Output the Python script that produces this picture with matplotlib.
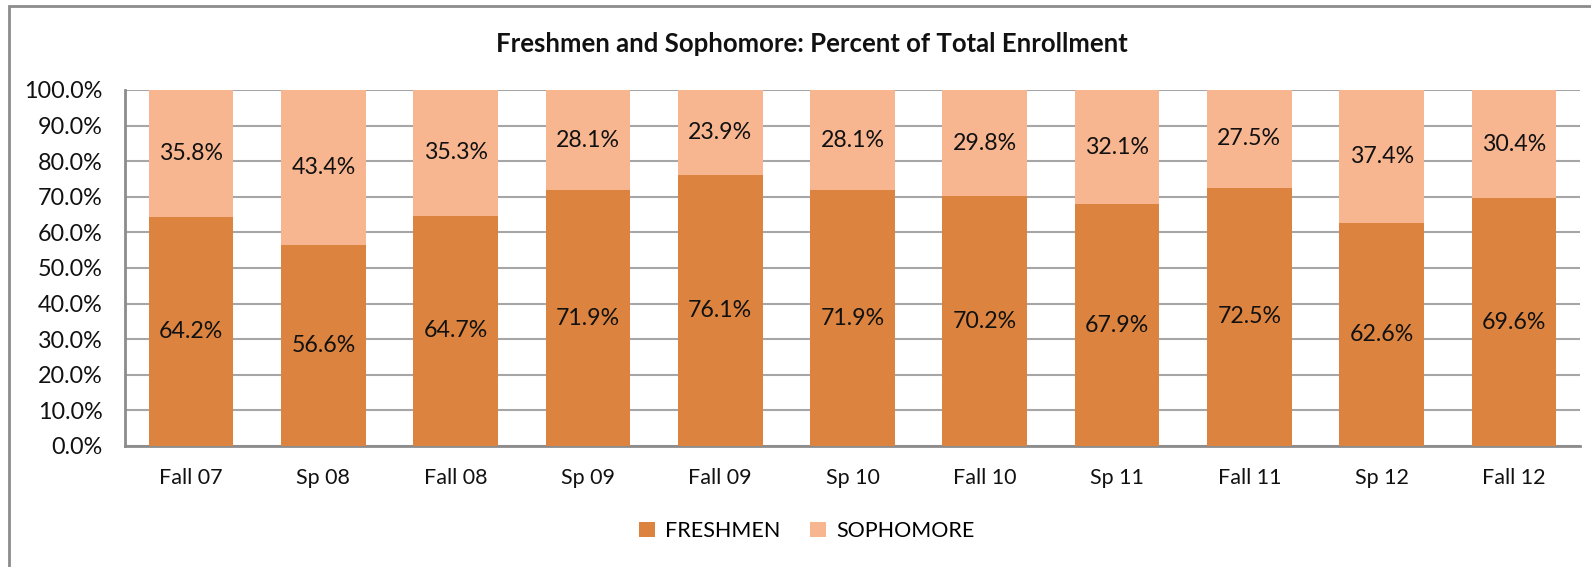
import numpy as np
import matplotlib.pyplot as plt
from matplotlib.patches import Rectangle

terms = ["Fall 07", "Sp 08", "Fall 08", "Sp 09", "Fall 09", "Sp 10",
         "Fall 10", "Sp 11", "Fall 11", "Sp 12", "Fall 12"]
freshmen = [64.2, 56.6, 64.7, 71.9, 76.1, 71.9, 70.2, 67.9, 72.5, 62.6, 69.6]
sophomore = [35.8, 43.4, 35.3, 28.1, 23.9, 28.1, 29.8, 32.1, 27.5, 37.4, 30.4]

c_fr = "#DC843F"
c_so = "#F8B690"
grid_c = "#A6A6A6"

plt.rcParams['font.family'] = ['Lato', 'DejaVu Sans']

fig = plt.figure(figsize=(15.91, 5.67), dpi=100)
# outer chart border (right/bottom run off the image)
fig.patches.append(Rectangle((9 / 1591, -0.1), 1.2, 1 - 6 / 567 + 0.1,
                             transform=fig.transFigure, fill=False,
                             edgecolor="#8C8C8C", linewidth=2))

ax = fig.add_axes([125 / 1591, 1 - 446 / 567, (1580 - 125) / 1591, (446 - 90) / 567])
x = np.arange(len(terms))
w = 0.64
b1 = ax.bar(x, freshmen, w, color=c_fr, label="FRESHMEN", zorder=3)
b2 = ax.bar(x, sophomore, w, bottom=freshmen, color=c_so, label="SOPHOMORE", zorder=3)

for i in range(len(terms)):
    ax.text(x[i], freshmen[i] / 2, f"{freshmen[i]:.1f}%", ha="center", va="center",
            fontsize=16.7, color="#111111", zorder=4)
    ax.text(x[i], freshmen[i] + sophomore[i] / 2, f"{sophomore[i]:.1f}%", ha="center",
            va="center", fontsize=16.7, color="#111111", zorder=4)

ax.set_xlim(-0.5, len(terms) - 0.5)
ax.set_ylim(0, 100)
ax.set_yticks(np.arange(0, 101, 10))
ax.set_yticklabels([f"{v:.1f}%" for v in np.arange(0, 101, 10)])
ax.set_xticks(x)
ax.set_xticklabels(terms)
ax.tick_params(axis="y", labelsize=16.8, length=0, colors="#111111", pad=16)
ax.tick_params(axis="x", labelsize=15.5, length=0, colors="#111111", pad=16)
ax.yaxis.grid(True, color=grid_c, linewidth=1.5, zorder=0)
for s in ["top", "right"]:
    ax.spines[s].set_visible(False)
for s in ["left", "bottom"]:
    ax.spines[s].set_color("#8C8C8C")
    ax.spines[s].set_linewidth(2)

fig.text(0.510, 1 - 44 / 567, "Freshmen and Sophomore: Percent of Total Enrollment",
         ha="center", va="center", fontsize=18.5, fontweight="bold", color="#111111")

fig.legend(handles=[b1, b2], loc="center", bbox_to_anchor=(0.507, 1 - 531 / 567),
           ncol=2, frameon=False, fontsize=15.5, handlelength=0.75, handleheight=0.75,
           columnspacing=1.4, handletextpad=0.45)

fig.savefig("out.png", dpi=100)
